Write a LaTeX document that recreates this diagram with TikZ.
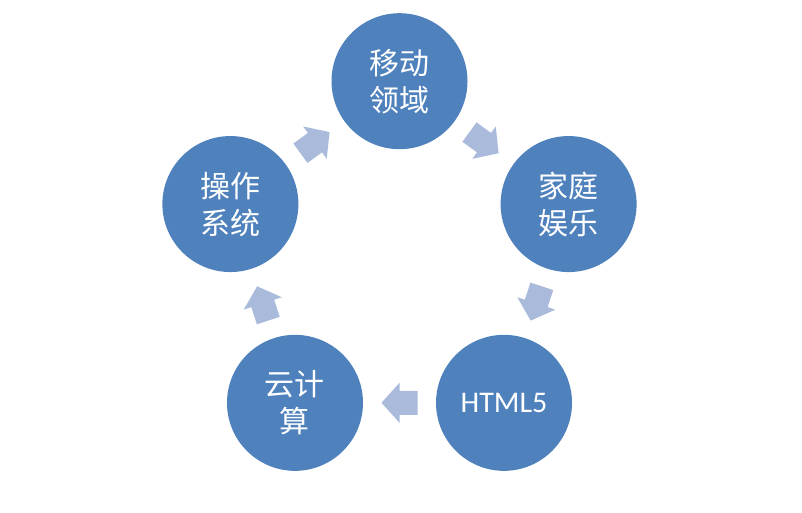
\documentclass[tikz,border=0pt]{standalone}
\usepackage{fontspec}
\newfontfamily\cjk{Noto Sans CJK SC}
\newfontfamily\lat{Carlito}
\definecolor{circ}{HTML}{4F81BD}
\definecolor{arr}{HTML}{A9BADB}
\begin{document}
\begin{tikzpicture}[x=1pt,y=1pt,
  bubble/.style={circle,fill=circ,minimum size=136pt,inner sep=0pt,text=white,align=center,font=\cjk\fontsize{30}{37}\selectfont},
  blockarrow/.style={fill=arr}]
\useasboundingbox (0,0) rectangle (802,512);
\coordinate (c) at (399.5,253);
\node[bubble] (n1) at ([shift={(90:177.8)}]c) {移动\\领域};
\node[bubble] (n2) at ([shift={(18:177.8)}]c) {家庭\\娱乐};
\node[bubble,font=\lat\fontsize{30}{37}\selectfont] (n3) at ([shift={(-54:177.8)}]c) {HTML5};
\node[bubble] (n4) at ([shift={(-126:177.8)}]c) {云计\\算};
\node[bubble] (n5) at ([shift={(162:177.8)}]c) {操作\\系统};
\foreach \a in {54,-18,-90,198,126}
  \fill[blockarrow,shift={(c)},rotate=\a]
    (155.8,18) -- (155.8,0) -- (163.8,0) -- (143.8,-18) -- (123.8,0) -- (131.8,0) -- (131.8,18) -- cycle;
\end{tikzpicture}
\end{document}
